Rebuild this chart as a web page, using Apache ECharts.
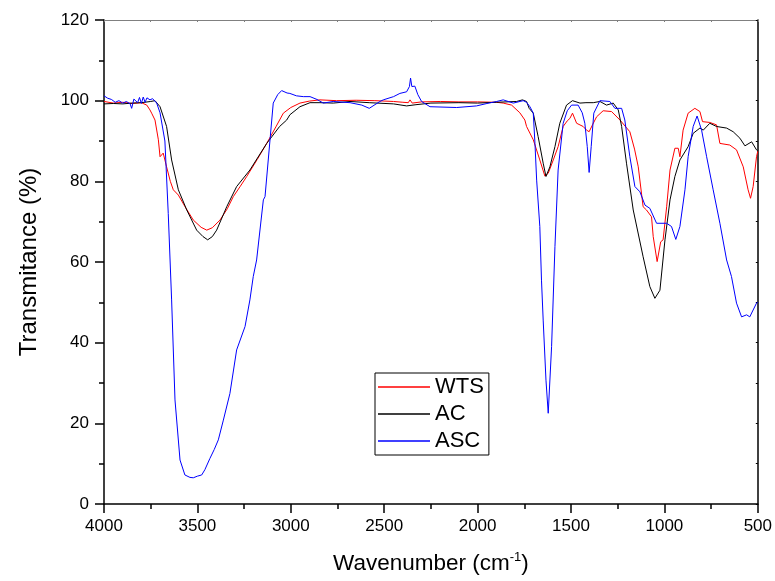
<!DOCTYPE html>
<html>
<head>
<meta charset="utf-8">
<script src="https://cdn.jsdelivr.net/npm/echarts@6/dist/echarts.min.js"></script>
<style>html,body{margin:0;padding:0;background:#fff;}#c{width:775px;height:581px;}</style>
</head>
<body>
<div id="c"></div>
<script>
// Wavenumber (cm-1) and transmittance (%)
const wtsWave = [4000,3950,3900,3850,3800,3771,3754,3745,3727,3709,3700,3690,3683,3665,3645,3629,3602,3566,3522,3480,3450,3420,3379,3340,3308,3270,3236,3180,3129,3080,3040,3000,2951,2900,2844,2755,2650,2550,2450,2400,2371,2362,2350,2300,2200,2100,2000,1900,1863,1818,1774,1747,1738,1702,1667,1640,1622,1595,1569,1542,1520,1506,1492,1470,1435,1417,1403,1385,1363,1328,1283,1238,1185,1160,1140,1114,1096,1069,1060,1039,1020,1007,988,970,944,926,917,900,873,837,810,796,757,721,703,650,614,578,552,539,525,507,500];
const wtsT = [99.8,99.4,99.6,99.3,99.5,98.9,97.7,96.9,95.2,90.3,86.1,86.5,87.0,83.6,80.0,77.9,76.6,73.7,70.4,68.6,67.9,68.5,70.4,73.2,76.2,78.8,81.2,85.4,89.4,93.5,96.9,98.3,99.4,99.9,100.2,100.0,100.1,100.0,99.8,99.6,99.5,100.2,99.4,99.7,99.8,99.7,99.7,99.6,99.4,98.9,97.0,95.2,93.6,90.3,85.3,81.3,82.0,85.3,88.6,93.6,95.0,95.6,96.9,94.4,93.6,92.7,92.3,94.0,96.0,97.5,97.3,95.2,92.3,88.0,83.6,73.7,72.9,71.2,66.3,60.1,65.0,65.5,73.7,82.8,88.2,88.2,86.1,92.7,96.9,98.1,97.3,94.8,94.6,94.0,89.4,89.0,87.8,83.6,77.9,75.8,78.7,86.1,87.5];

const acWave = [4000,3950,3900,3850,3800,3750,3727,3700,3665,3638,3602,3557,3504,3470,3445,3420,3397,3343,3290,3219,3129,3060,3022,3005,2951,2897,2844,2773,2683,2580,2450,2380,2330,2250,2100,2000,1900,1791,1760,1738,1724,1702,1676,1649,1634,1613,1586,1560,1524,1492,1452,1420,1381,1345,1310,1274,1247,1229,1203,1167,1114,1078,1051,1024,997,970,944,917,873,846,810,792,757,721,667,632,596,569,533,507,500];
const acT = [99.2,99.3,99.2,99.4,99.5,99.8,100.0,98.5,93.6,85.3,77.9,72.9,67.9,66.3,65.5,66.3,67.9,73.7,78.7,82.8,89.4,93.6,95.2,96.5,98.5,99.5,99.5,99.4,99.8,99.5,99.2,98.7,99.0,99.4,99.5,99.4,99.6,99.8,100.2,99.8,98.1,96.9,91.1,84.5,81.2,83.6,88.6,94.4,98.9,100.0,99.4,99.5,99.5,99.8,98.9,99.4,97.7,93.6,84.5,72.9,61.3,53.9,51.0,53.0,65.5,75.4,81.2,85.3,88.6,91.9,93.2,92.7,94.4,93.6,93.2,92.3,90.7,88.8,89.8,87.8,87.5];

const ascWave = [4000,3980,3960,3940,3920,3900,3880,3860,3852,3840,3820,3810,3800,3790,3780,3770,3754,3740,3718,3700,3674,3656,3638,3620,3593,3567,3540,3522,3500,3477,3460,3433,3410,3388,3361,3326,3290,3245,3219,3201,3183,3147,3138,3094,3070,3049,3020,3005,2970,2933,2897,2860,2826,2773,2683,2620,2580,2523,2505,2450,2416,2380,2365,2359,2352,2348,2336,2320,2300,2255,2112,2006,1950,1898,1863,1809,1756,1738,1720,1702,1693,1684,1667,1658,1649,1634,1622,1604,1586,1569,1542,1520,1497,1462,1440,1426,1413,1403,1392,1378,1345,1292,1265,1229,1212,1185,1158,1131,1104,1078,1042,988,962,939,917,890,873,846,825,801,774,739,703,667,641,614,587,560,543,525,507,500];
const ascT = [101.2,100.6,100.3,99.6,100.0,99.4,99.8,99.2,98.1,100.4,99.5,100.8,99.3,100.9,99.6,100.7,100.2,100.5,99.4,97.0,90.0,72.0,50.6,25.8,10.9,7.2,6.6,6.5,6.9,7.2,8.5,11.3,13.5,15.9,20.8,27.4,38.2,44.0,50.6,56.4,60.5,75.4,76.2,99.4,101.5,102.5,101.9,101.8,101.2,101.0,101.0,100.3,99.4,99.8,99.5,98.9,98.1,99.8,100.2,101.0,101.8,102.2,103.5,105.6,103.5,103.1,103.6,101.5,99.8,98.5,98.3,98.7,99.3,99.8,100.2,99.4,100.0,99.6,98.5,96.9,89.4,80.3,68.8,55.5,45.6,30.7,22.5,39.0,63.8,82.8,94.4,97.5,98.9,98.9,97.0,94.4,88.6,82.2,88.6,96.9,100.0,99.8,98.1,98.1,95.2,86.1,78.7,77.4,74.1,73.3,69.6,69.6,68.8,65.6,68.8,77.9,86.1,93.6,96.2,92.7,86.1,77.9,69.6,60.5,56.4,49.8,46.4,46.9,46.4,48.1,49.8,50.0];

const xTicks = {min: 500, max: 4000, step: 500};
const yTicks = {min: 0, max: 120, step: 20};

function pairs(xs, ys){ return xs.map((x,i)=>[x, ys[i]]); }

const FONT = '"Liberation Sans", Arial, sans-serif';
const chart = echarts.init(document.getElementById('c'), null, {renderer:'canvas'});
const mk = (name, color, xs, ys) => ({
  name, type:'line', data: pairs(xs, ys), showSymbol:false, symbol:'none',
  lineStyle:{color, width:1}, itemStyle:{color}, animation:false, z: 3
});
chart.setOption({
  backgroundColor:'#fff',
  animation:false,
  grid:{left:104, right:17, top:20, bottom:77, containLabel:false},
  legend:{
    orient:'vertical', left:375, top:373,
    padding:[3,5,3,3], itemGap:5, itemWidth:52, itemHeight:1.5, icon:'rect',
    borderColor:'#000', borderWidth:1,
    textStyle:{fontSize:22, fontFamily:FONT, color:'#000', lineHeight:22},
    data:['WTS','AC','ASC']
  },
  xAxis:[{
    type:'value', min:xTicks.min, max:xTicks.max, interval:xTicks.step, inverse:true,
    name:'Wavenumber (cm{sup|-1})', nameLocation:'middle', nameGap:47,
    nameTextStyle:{fontSize:22.5, fontFamily:FONT, color:'#000', rich:{sup:{fontSize:13, verticalAlign:'top', padding:[0,0,12,0], fontFamily:FONT}}},
    axisLine:{show:true, onZero:false, lineStyle:{color:'#000', width:1.5}},
    axisTick:{show:true, inside:false, length:9, lineStyle:{color:'#000', width:1.5}},
    minorTick:{show:true, splitNumber:2, length:5, lineStyle:{color:'#000', width:1.5}},
    axisLabel:{fontSize:17, fontFamily:FONT, color:'#000', margin:14, formatter: v => String(v)},
    splitLine:{show:false}
  },{
    type:'value', min:xTicks.min, max:xTicks.max, interval:250, inverse:true, position:'top',
    axisLine:{show:true, onZero:false, lineStyle:{color:'#808080', width:1}},
    axisTick:{show:true, inside:true, length:2, lineStyle:{color:'#808080'}},
    axisLabel:{show:false}, splitLine:{show:false}
  }],
  yAxis:[{
    type:'value', min:yTicks.min, max:yTicks.max, interval:yTicks.step,
    name:'Transmitance (%)', nameLocation:'middle', nameGap:63,
    nameTextStyle:{fontSize:24, fontFamily:FONT, color:'#000'},
    axisLine:{show:true, onZero:false, lineStyle:{color:'#000', width:1.5}},
    axisTick:{show:true, inside:false, length:9, lineStyle:{color:'#000', width:1.5}},
    minorTick:{show:true, splitNumber:2, length:5, lineStyle:{color:'#000', width:1.5}},
    axisLabel:{fontSize:17, fontFamily:FONT, color:'#000', margin:15, formatter: v => String(v)},
    splitLine:{show:false}
  },{
    type:'value', min:yTicks.min, max:yTicks.max, interval:10, position:'right',
    axisLine:{show:true, onZero:false, lineStyle:{color:'#000', width:1.5}},
    axisTick:{show:true, inside:true, length:2, lineStyle:{color:'#000'}},
    axisLabel:{show:false}, splitLine:{show:false}
  }],
  series:[
    mk('WTS', '#ff0000', wtsWave, wtsT),
    mk('AC', '#000000', acWave, acT),
    mk('ASC', '#0000ff', ascWave, ascT)
  ]
});
</script>
</body>
</html>
